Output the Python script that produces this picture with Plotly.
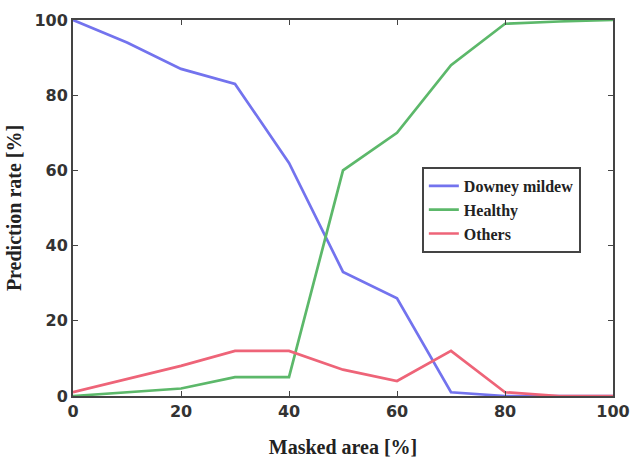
import plotly.graph_objects as go

masked_area = [0, 10, 20, 30, 40, 50, 60, 70, 80, 90, 100]
downey_mildew = [100, 94, 87, 83, 62, 33, 26, 1, 0, 0, 0]
healthy = [0, 1, 2, 5, 5, 60, 70, 88, 99, 99.6, 100]
others = [1, 4.5, 8, 12, 12, 7, 4, 12, 1, 0, 0]

series = [
    ("Downey mildew", downey_mildew, "#7373ee"),
    ("Healthy", healthy, "#5cb86a"),
    ("Others", others, "#ee6478"),
]

fig = go.Figure()
for name, vals, color in series:
    fig.add_trace(go.Scatter(x=masked_area, y=vals, mode="lines", name=name,
                             line=dict(color=color, width=2.7)))

axis_common = dict(
    showgrid=False, zeroline=False, showline=True, linecolor="#444444", linewidth=2,
    mirror="allticks", ticks="inside", ticklen=5, tickcolor="#444444", automargin=False,
    tickfont=dict(family="DejaVu Sans", size=16, color="#333333", weight="bold"),
)

fig.update_layout(
    width=631, height=459,
    margin=dict(l=73, r=18, t=20, b=63, autoexpand=False),
    paper_bgcolor="white", plot_bgcolor="white",
    xaxis=dict(range=[0, 100], tickvals=[0, 20, 40, 60, 80, 100],
               title=dict(text="Masked area [%]", standoff=20,
                          font=dict(family="Liberation Serif", size=20, color="#222222", weight="bold")),
               **axis_common),
    yaxis=dict(range=[0, 100], tickvals=[0, 20, 40, 60, 80, 100],
               title=dict(text="Prediction rate [%]", standoff=7,
                          font=dict(family="Liberation Serif", size=20, color="#222222", weight="bold")),
               **axis_common),
    legend=dict(x=0.646, y=0.609, xanchor="left", yanchor="top",
                bgcolor="white", bordercolor="#444444", borderwidth=2,
                font=dict(family="Liberation Serif", size=16, color="#222222", weight="bold"),
                tracegroupgap=0, itemwidth=30),
    showlegend=True,
)

fig.write_html("out.html", config={"displayModeBar": False},
               post_script="document.body.style.margin='0';document.body.style.overflow='hidden';")
